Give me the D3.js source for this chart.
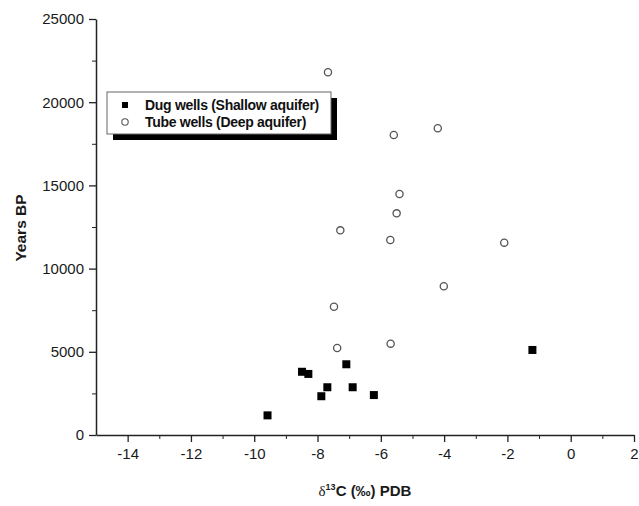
<!DOCTYPE html>
<html>
<head>
  <meta charset="utf-8">
  <title>Years BP vs d13C</title>
  <script src="https://d3js.org/d3.v7.min.js"></script>
  <style>
    body { margin: 0; background: #fff; }
    svg { display: block; background: #fff; }
    .axis path, .axis line { stroke: #222; }
    .axis path { stroke-width: 1.5; }
    .axis text { font-family: "Liberation Sans", Arial, sans-serif; font-size: 15px; fill: #1a1a1a; }
  </style>
</head>
<body>
  <script>
    // dug wells (shallow aquifer)
    var dugD13C = [-9.58, -8.49, -8.29, -7.09, -7.69, -7.88, -6.89, -6.22, -1.21];
    var dugAge = [1180, 3800, 3670, 4250, 2870, 2330, 2870, 2400, 5110];
    // tube wells (deep aquifer)
    var tubeD13C = [-7.67, -5.59, -4.20, -5.41, -5.50, -7.28, -5.70, -2.10, -4.01, -7.48, -7.38, -5.69];
    var tubeAge = [21800, 18030, 18430, 14480, 13320, 12300, 11720, 11560, 8940, 7710, 5230, 5490];

    var xTicks = [-14, -12, -10, -8, -6, -4, -2, 0, 2];
    var xMinor = [-13, -11, -9, -7, -5, -3, -1, 1];
    var yTicks = [0, 5000, 10000, 15000, 20000, 25000];
    var yMinor = [2500, 7500, 12500, 17500, 22500];
    var legendLabels = ["Dug wells (Shallow aquifer)", "Tube wells (Deep aquifer)"];

    var width = 639, height = 506;

    var svg = d3.select("body")
      .append("svg")
      .attr("width", width)
      .attr("height", height);

    var x = d3.scaleLinear().domain([-15, 2]).range([96, 634]);
    var y = d3.scaleLinear().domain([0, 25000]).range([435, 19]);

    // plain hyphen minus like the original
    var plain = d => String(d);

    // minor ticks first, then main axes on top
    svg.append("g")
      .attr("class", "axis")
      .attr("transform", "translate(0," + y(0) + ")")
      .call(d3.axisBottom(x).tickValues(xMinor).tickSize(4).tickFormat(""))
      .call(g => g.select(".domain").remove());

    svg.append("g")
      .attr("class", "axis")
      .attr("transform", "translate(" + x(-15) + ",0)")
      .call(d3.axisLeft(y).tickValues(yMinor).tickSize(4).tickFormat(""))
      .call(g => g.select(".domain").remove());

    svg.append("g")
      .attr("class", "axis")
      .attr("transform", "translate(0," + y(0) + ")")
      .call(d3.axisBottom(x).tickValues(xTicks).tickSize(7).tickSizeOuter(0).tickPadding(6).tickFormat(plain))
      .call(g => g.selectAll("line").attr("stroke-width", 1.3));

    svg.append("g")
      .attr("class", "axis")
      .attr("transform", "translate(" + x(-15) + ",0)")
      .call(d3.axisLeft(y).tickValues(yTicks).tickSize(7).tickSizeOuter(0).tickPadding(5).tickFormat(plain))
      .call(g => g.selectAll("line").attr("stroke-width", 1.3));

    // axis titles
    var xt = svg.append("text")
      .attr("x", 365)
      .attr("y", 496)
      .attr("text-anchor", "middle")
      .attr("fill", "#1a1a1a")
      .style("font-family", "'Liberation Sans', Arial, sans-serif")
      .style("font-weight", "bold")
      .style("font-size", "15px");
    xt.append("tspan").text("\u03b4")
      .style("font-family", "'Liberation Serif', serif")
      .style("font-weight", "normal");
    xt.append("tspan").text("13").attr("dy", -6).style("font-size", "9px");
    xt.append("tspan").text("C (\u2030) PDB").attr("dy", 6);

    svg.append("text")
      .attr("transform", "translate(26,228) rotate(-90)")
      .attr("text-anchor", "middle")
      .attr("fill", "#1a1a1a")
      .style("font-family", "'Liberation Sans', Arial, sans-serif")
      .style("font-weight", "bold")
      .style("font-size", "15.5px")
      .text("Years BP");

    // points
    var tube = tubeD13C.map((v, i) => [v, tubeAge[i]]);
    var dug = dugD13C.map((v, i) => [v, dugAge[i]]);

    svg.selectAll(".tube")
      .data(tube)
      .enter()
      .append("circle")
      .attr("class", "tube")
      .attr("cx", d => x(d[0]))
      .attr("cy", d => y(d[1]))
      .attr("r", 3.6)
      .attr("fill", "#fff")
      .attr("stroke", "#555")
      .attr("stroke-width", 1.3);

    var sq = 8;
    svg.selectAll(".dug")
      .data(dug)
      .enter()
      .append("rect")
      .attr("class", "dug")
      .attr("x", d => x(d[0]) - sq / 2)
      .attr("y", d => y(d[1]) - sq / 2)
      .attr("width", sq)
      .attr("height", sq)
      .attr("fill", "#000");

    // legend with drop shadow
    var lg = svg.append("g").attr("transform", "translate(107,92)");
    lg.append("rect").attr("x", 6).attr("y", 6).attr("width", 224).attr("height", 42).attr("fill", "#000");
    lg.append("rect").attr("width", 224).attr("height", 42).attr("fill", "#fff").attr("stroke", "#666").attr("stroke-width", 1);

    lg.append("rect").attr("x", 15).attr("y", 10).attr("width", 6).attr("height", 6).attr("fill", "#000");
    lg.append("circle").attr("cx", 18).attr("cy", 30).attr("r", 3.2).attr("fill", "#fff").attr("stroke", "#555").attr("stroke-width", 1.1);

    lg.selectAll(".lt")
      .data(legendLabels)
      .enter()
      .append("text")
      .attr("class", "lt")
      .attr("x", 38)
      .attr("y", (d, i) => 18 + i * 17)
      .attr("fill", "#111")
      .style("font-family", "'Liberation Sans', Arial, sans-serif")
      .style("font-weight", "bold")
      .style("font-size", "14px")
      .style("letter-spacing", "-0.3px")
      .text(d => d);
  </script>
</body>
</html>
